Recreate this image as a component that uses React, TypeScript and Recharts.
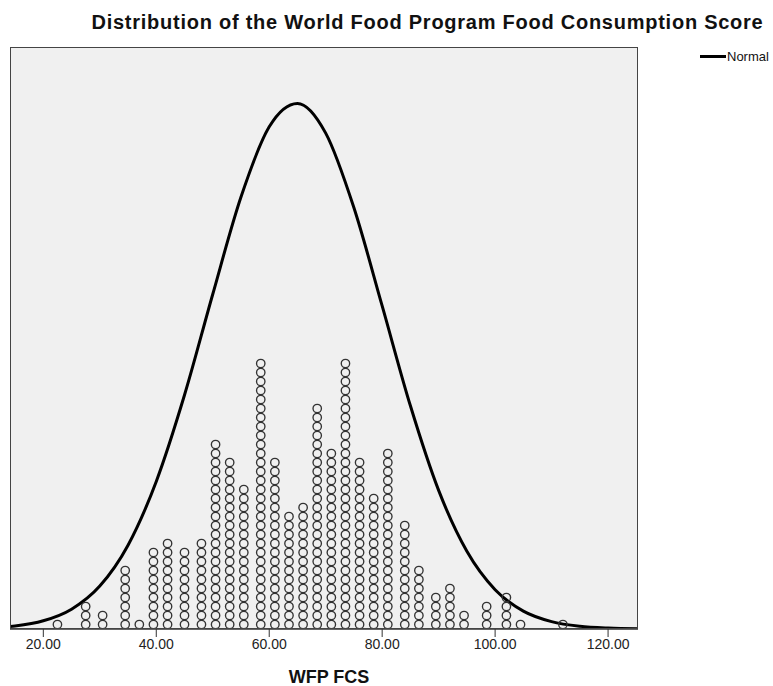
import React from "react";
import {
  ComposedChart,
  Scatter,
  Line,
  XAxis,
  YAxis,
  CartesianGrid,
} from "recharts";

// FCS score of each dot column
const fcsValues = [
  22.5, 27.5, 30.5, 34.5, 37, 39.5, 42, 45, 48, 50.5, 53, 55.5, 58.5, 61, 63.5,
  66, 68.5, 71, 73.5, 76, 78.5, 81, 84, 86.5, 89.5, 92, 94.5, 98.5, 102, 104.5,
  112,
];
// number of stacked dots in each column
const dotCounts = [
  1, 3, 2, 7, 1, 9, 10, 9, 10, 21, 19, 16, 30, 19, 13, 14, 25, 20, 30, 19, 15,
  20, 12, 7, 4, 5, 2, 3, 4, 1, 1,
];

// normal curve (height in dot units)
const curveX = [
  13, 15, 20, 25, 30, 35, 40, 45, 50, 55, 60, 65, 70, 75, 80, 85, 90, 95, 100,
  105, 110, 115, 120, 126,
];
const curveY = [
  0.22, 0.34, 0.91, 2.2, 4.77, 9.31, 16.4, 26.0, 37.2, 48.0, 55.8, 58.4, 55.1,
  46.8, 35.9, 24.8, 15.4, 8.64, 4.37, 1.99, 0.82, 0.3, 0.1, 0.02,
];

const xTicks = [20, 40, 60, 80, 100, 120];

const dots: { x: number; y: number }[] = [];
fcsValues.forEach((v, i) => {
  for (let k = 1; k <= dotCounts[i]; k++) dots.push({ x: v, y: k - 0.5 });
});
const curve = curveX.map((x, i) => ({ x, y: curveY[i] }));

const font = '"Liberation Sans", Arial, sans-serif';

function Dot(props: any) {
  const { cx, cy } = props;
  return (
    <circle cx={cx} cy={cy} r={4.2} fill="none" stroke="#333" strokeWidth={1.35} />
  );
}

export default function App() {
  return (
    <div
      style={{
        position: "absolute",
        left: 0,
        top: 0,
        width: 773,
        height: 686,
        background: "#fff",
        fontFamily: font,
        overflow: "hidden",
      }}
    >
      <div
        style={{
          position: "absolute",
          left: 0,
          width: 855,
          top: 11,
          textAlign: "center",
          fontWeight: "bold",
          fontSize: 20,
          letterSpacing: 0.75,
          color: "#111",
          whiteSpace: "nowrap",
        }}
      >
        Distribution of the World Food Program Food Consumption Score
      </div>
      <div
        style={{
          position: "absolute",
          left: 700,
          top: 49,
          display: "flex",
          alignItems: "center",
          fontSize: 13,
          color: "#111",
        }}
      >
        <div style={{ width: 26, height: 3, background: "#000" }} />
        <span style={{ marginLeft: 1 }}>Normal</span>
      </div>
      <ComposedChart
        width={773}
        height={686}
        margin={{ top: 47, right: 135, bottom: 27, left: 10 }}
      >
        <CartesianGrid fill="#f0f0f0" horizontal={false} vertical={false} />
        <XAxis
          type="number"
          dataKey="x"
          domain={[14.1, 125.3]}
          ticks={xTicks}
          allowDataOverflow
          height={30}
          tickFormatter={(v: number) => v.toFixed(2)}
          tickSize={8}
          tick={{ fill: "#222", fontSize: 14, fontFamily: font }}
          axisLine={{ stroke: "#333", strokeWidth: 1.5 }}
          tickLine={{ stroke: "#333" }}
        />
        <YAxis type="number" dataKey="y" domain={[0, 64.67]} allowDataOverflow hide />
        <Scatter data={dots} shape={<Dot />} isAnimationActive={false} />
        <Line
          data={curve}
          dataKey="y"
          type="monotone"
          stroke="#000"
          strokeWidth={3}
          dot={false}
          isAnimationActive={false}
        />
      </ComposedChart>
      <div
        style={{
          position: "absolute",
          left: 10,
          top: 47,
          width: 628,
          height: 582,
          boxSizing: "border-box",
          border: "1.5px solid #444",
          pointerEvents: "none",
        }}
      />
      <div
        style={{
          position: "absolute",
          left: 0,
          width: 658,
          top: 669,
          textAlign: "center",
          fontWeight: "bold",
          fontSize: 18,
          lineHeight: "16px",
          color: "#111",
        }}
      >
        WFP FCS
      </div>
    </div>
  );
}
